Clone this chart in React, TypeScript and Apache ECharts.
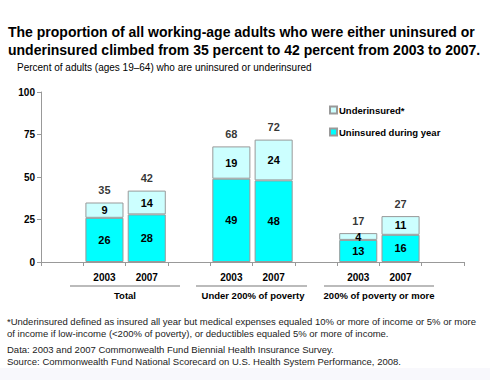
import React, { useEffect, useRef } from "react";
import * as echarts from "echarts";

const slots = ["", "2003", "2007", "", "2003", "2007", "", "2003", "2007", ""];
const uninsured = [null, 26, 28, null, 49, 48, null, 13, 16, null];
const underinsured = [null, 9, 14, null, 19, 24, null, 4, 11, null];
const totals = [null, 35, 42, null, 68, 72, null, 17, 27, null];
const groupLabels = ["Total", "Under 200% of poverty", "200% of poverty or more"];
const yTicks = [0, 25, 50, 75, 100];

const FONT = "Liberation Sans, Arial, sans-serif";

export default function App() {
  const ref = useRef<HTMLDivElement>(null);
  useEffect(() => {
    if (!ref.current) return;
    const chart = echarts.init(ref.current, undefined, { renderer: "svg" });
    const groupPos = [
      { cx: 125, x1: 70, x2: 180 },
      { cx: 253, x1: 196, x2: 307 },
      { cx: 379, x1: 324, x2: 434 },
    ];
    const graphics: any[] = [
      { type: "rect", shape: { x: 0, y: 368, width: 490, height: 12 }, style: { fill: "#f8f8fc" }, silent: true },
      {
        type: "text", left: 8, top: 23,
        style: { text: "The proportion of all working-age adults who were either uninsured or\nunderinsured climbed from 35 percent to 42 percent from 2003 to 2007.", font: `bold 14px ${FONT}`, fill: "#000", lineHeight: 18 },
      },
      {
        type: "text", left: 17, top: 62,
        style: { text: "Percent of adults (ages 19\u201364) who are uninsured or underinsured", font: `10px ${FONT}`, fill: "#000" },
      },
      {
        type: "text", left: 7, top: 316,
        style: {
          text: "*Underinsured defined as insured all year but medical expenses equaled 10% or more of income or 5% or more\nof income if low-income (<200% of poverty), or deductibles equaled 5% or more of income.",
          font: `9.5px ${FONT}`, fill: "#222", lineHeight: 11.5,
        },
      },
      {
        type: "text", left: 7, top: 344,
        style: {
          text: "Data: 2003 and 2007 Commonwealth Fund Biennial Health Insurance Survey.\nSource: Commonwealth Fund National Scorecard on U.S. Health System Performance, 2008.",
          font: `9.5px ${FONT}`, fill: "#222", lineHeight: 11.5,
        },
      },
    ];
    groupPos.forEach((g, i) => {
      graphics.push({ type: "line", shape: { x1: g.x1, y1: 286, x2: g.x2, y2: 286 }, style: { stroke: "#bbbbbb", lineWidth: 2 } });
      graphics.push({
        type: "text", x: g.cx, y: 295,
        style: { text: groupLabels[i], font: `bold 9.5px ${FONT}`, fill: "#000", align: "center", verticalAlign: "middle" },
      });
    });

    chart.setOption({
      animation: false,
      backgroundColor: "#ffffff",
      grid: { left: 41, right: 26, top: 92, bottom: 118 },
      legend: {
        orient: "vertical", left: 324, top: 100, itemWidth: 7, itemHeight: 7, itemGap: 12,
        icon: "rect",
        data: ["Underinsured*", "Uninsured during year"],
        textStyle: { fontFamily: FONT, fontSize: 9.5, fontWeight: "bold", color: "#000", padding: [0, 0, 0, -3] },
      },
      xAxis: {
        type: "category", data: slots, boundaryGap: true,
        axisLine: { lineStyle: { color: "#999999" } },
        axisTick: { show: true, interval: 0, length: 4, lineStyle: { color: "#999999" } },
        axisLabel: { interval: 0, fontFamily: FONT, fontSize: 10, fontWeight: "bold", color: "#000", margin: 10 },
      },
      yAxis: {
        type: "value", min: yTicks[0], max: yTicks[yTicks.length - 1], interval: 25,
        axisLine: { show: true, lineStyle: { color: "#999999" } },
        axisTick: { show: true, length: 4, lineStyle: { color: "#999999" } },
        splitLine: { show: false },
        axisLabel: { fontFamily: FONT, fontSize: 10, fontWeight: "bold", color: "#000", margin: 6 },
      },
      series: [
        {
          name: "Uninsured during year", type: "bar", stack: "a", data: uninsured, barCategoryGap: "10%",
          itemStyle: { color: "#00ffff", borderColor: "#999999", borderWidth: 1 },
          label: { show: true, position: "inside", fontFamily: FONT, fontSize: 11, fontWeight: "bold", color: "#000" },
        },
        {
          name: "Underinsured*", type: "bar", stack: "a", data: underinsured, barCategoryGap: "10%",
          itemStyle: { color: "#ccffff", borderColor: "#999999", borderWidth: 1 },
          label: { show: true, position: "inside", fontFamily: FONT, fontSize: 11, fontWeight: "bold", color: "#000" },
        },
        {
          name: "Total", type: "scatter", data: totals, symbolSize: 0, silent: true,
          label: { show: true, position: "top", distance: 7, fontFamily: FONT, fontSize: 11, fontWeight: "bold", color: "#000", formatter: (p: any) => String(p.value) },
        },
      ],
      graphic: graphics,
    });
    return () => chart.dispose();
  }, []);
  return <div ref={ref} style={{ position: "fixed", left: 0, top: 0, width: 490, height: 380 }} />;
}
